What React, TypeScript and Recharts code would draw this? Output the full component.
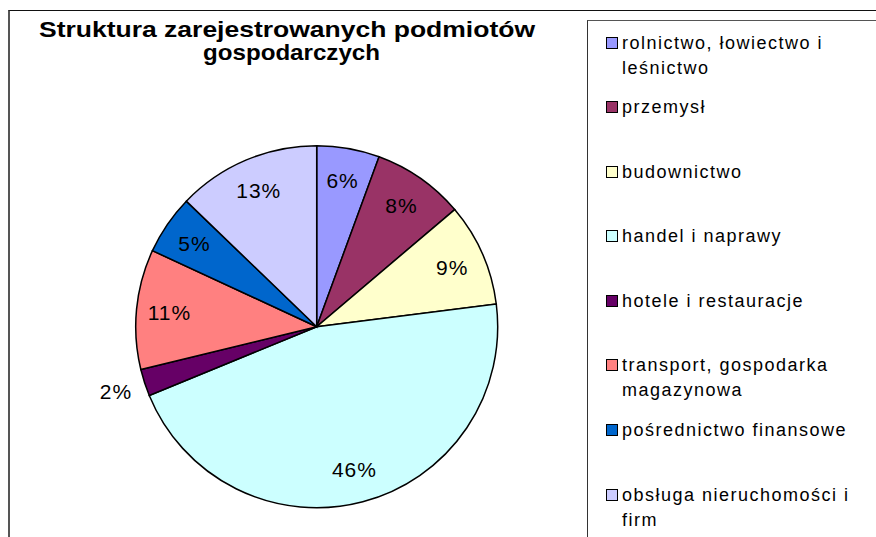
import { Cell, Legend, Pie, PieChart } from "recharts";

// Pie of registered business entities by sector (Excel 2003 style), legend boxed on the right.

const categories = [
  "rolnictwo, łowiectwo i leśnictwo",
  "przemysł",
  "budownictwo",
  "handel i naprawy",
  "hotele i restauracje",
  "transport, gospodarka magazynowa",
  "pośrednictwo finansowe",
  "obsługa nieruchomości i firm",
];
const shares = [5.6, 8.2, 9.2, 45.8, 2.4, 10.7, 5.3, 12.8];
const sliceColors = [
  "#9999FF",
  "#993366",
  "#FFFFCC",
  "#CCFFFF",
  "#660066",
  "#FF8080",
  "#0066CC",
  "#CCCCFF",
];
const titleLines = ["Struktura zarejestrowanych podmiotów", "gospodarczych"];

const data = categories.map((name, i) => ({ name, value: shares[i] }));

const FONT = "'Liberation Sans', Arial, sans-serif";
const RAD = Math.PI / 180;

function renderLabel(props: any) {
  const { cx, cy, midAngle, percent } = props;
  const small = percent < 0.03;
  const r = small ? 211 : 148;
  const x = cx + r * Math.cos(-midAngle * RAD);
  const y = cy + r * Math.sin(-midAngle * RAD);
  return (
    <text
      x={x}
      y={y}
      textAnchor="middle"
      dominantBaseline="central"
      fontFamily={FONT}
      fontSize={21}
      letterSpacing={1}
      fill="#000"
    >
      {`${Math.round(percent * 100)}%`}
    </text>
  );
}

function renderLegend(props: any) {
  const items = props.payload || [];
  return (
    <div style={{ fontFamily: FONT, fontSize: 18, letterSpacing: 1.5, color: "#000" }}>
      {items.map((entry: any, i: number) => (
        <div key={i} style={{ display: "flex", height: 64.6, alignItems: "flex-start" }}>
          <span
            style={{
              width: 10,
              height: 10,
              marginTop: 6,
              marginRight: 4,
              flex: "none",
              background: entry.color,
              border: "1.5px solid #000",
            }}
          />
          <span style={{ width: 250, lineHeight: "25px" }}>{entry.value}</span>
        </div>
      ))}
    </div>
  );
}

export default function App() {
  return (
    <div
      style={{
        position: "absolute",
        left: 0,
        top: 0,
        width: 876,
        height: 537,
        overflow: "hidden",
        background: "#fff",
      }}
    >
      <div
        style={{
          position: "absolute",
          left: 8,
          top: 10,
          width: 1000,
          height: 800,
          borderLeft: "2px solid #555",
          borderTop: "1.5px solid #111",
        }}
      />
      <div
        style={{
          position: "absolute",
          left: 587,
          top: 20,
          width: 1000,
          height: 800,
          borderLeft: "1.5px solid #333",
          borderTop: "1.5px solid #555",
        }}
      />
      <svg width={876} height={537} style={{ position: "absolute", left: 0, top: 0 }}>
        <text
          x={39}
          y={37}
          textLength={496}
          lengthAdjust="spacingAndGlyphs"
          fontFamily={FONT}
          fontWeight="bold"
          fontSize={21.5}
          fill="#000"
        >
          {titleLines[0]}
        </text>
        <text
          x={203}
          y={59.5}
          textLength={177}
          lengthAdjust="spacingAndGlyphs"
          fontFamily={FONT}
          fontWeight="bold"
          fontSize={21.5}
          fill="#000"
        >
          {titleLines[1]}
        </text>
      </svg>
      <div style={{ position: "absolute", left: 0, top: 0 }}>
        <PieChart width={876} height={537} margin={{ top: 0, right: 0, bottom: 0, left: 0 }}>
          <Pie
            data={data}
            dataKey="value"
            nameKey="name"
            cx={316.7}
            cy={326.7}
            outerRadius={181}
            startAngle={90}
            endAngle={-270}
            stroke="#000"
            strokeWidth={1.5}
            label={renderLabel}
            labelLine={false}
            isAnimationActive={false}
          >
            {data.map((d, i) => (
              <Cell key={d.name} fill={sliceColors[i]} />
            ))}
          </Pie>
          <Legend
            layout="vertical"
            align="right"
            verticalAlign="top"
            itemSorter={null}
            content={renderLegend}
            wrapperStyle={{ position: "absolute", left: 606, top: 30.5, width: 268 }}
          />
        </PieChart>
      </div>
    </div>
  );
}
